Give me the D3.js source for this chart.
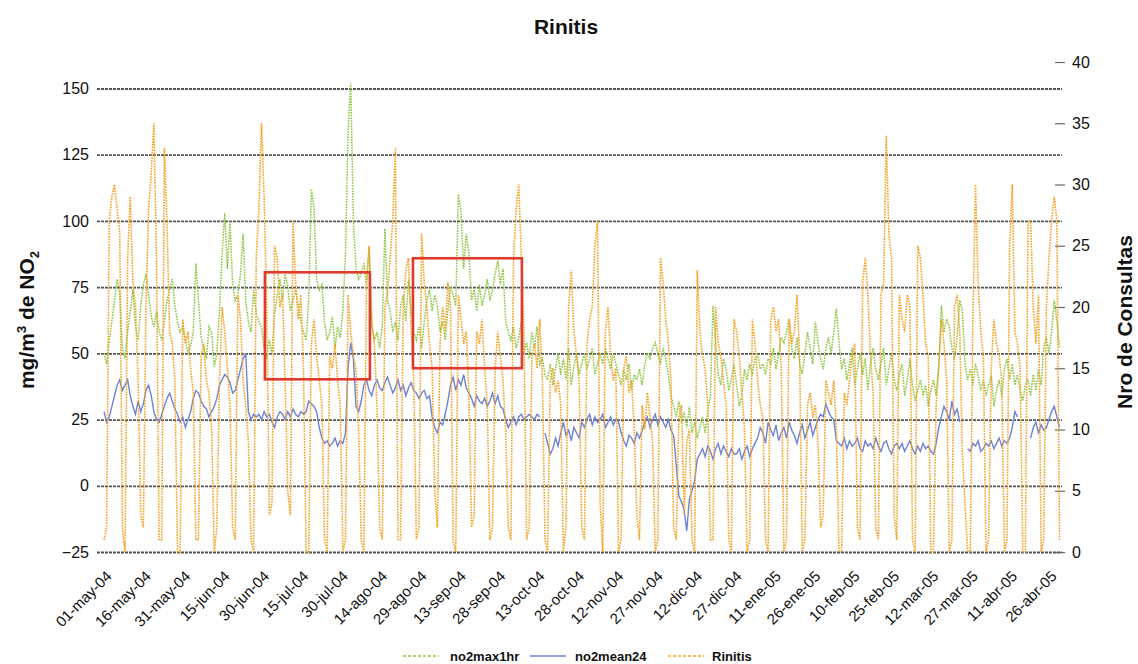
<!DOCTYPE html>
<html>
<head>
<meta charset="utf-8">
<script src="https://cdn.jsdelivr.net/npm/d3@7"></script>
<style>
  body { margin: 0; background: #fff; }
  svg { display: block; font-family: "Liberation Sans", Arial, sans-serif; }
</style>
</head>
<body>
<svg id="chart" width="1138" height="664"></svg>
<script>
// Daily series, 01-may-04 .. 30-abr-05 (365 days)
const tickLabels = ["01-may-04","16-may-04","31-may-04","15-jun-04","30-jun-04","15-jul-04","30-jul-04",
  "14-ago-04","29-ago-04","13-sep-04","28-sep-04","13-oct-04","28-oct-04","12-nov-04","27-nov-04",
  "12-dic-04","27-dic-04","11-ene-05","26-ene-05","10-feb-05","25-feb-05","12-mar-05","27-mar-05",
  "11-abr-05","26-abr-05"];

const leftTicks = [-25, 0, 25, 50, 75, 100, 125, 150];
const rightTicks = [0, 5, 10, 15, 20, 25, 30, 35, 40];

const no2max1hr = [
  50,46,55,62,70,78,72, 52,48,58,66,74,60,55, 68,76,80,72,64,60,66, 58,55,62,70,74,78,68,
  62,58,60,55,50,53,58, 84,70,56,52,48,60,58, 45,50,66,88,103,82,100, 76,70,72,80,95,70,62,
  58,74,65,62,60,52,48, 55,50,65,72,78,70,80, 75,66,70,74,68,62,58, 55,70,112,105,78,74,76,
  62,55,58,64,52,60,56, 66,88,135,152,100,82,78, 80,84,76,90,60,55,58, 52,60,97,70,66,58,62,
  55,68,72,62,78,66,58, 55,60,52,62,70,74,66, 72,68,58,62,55,66,75, 72,68,110,104,82,95,88,
  70,74,66,76,68,72,78, 70,74,80,85,76,82,62, 58,55,60,52,56,62,50, 54,48,58,52,60,46,48,
  42,40,46,38,44,50,42, 48,40,52,38,45,50,42, 46,50,44,48,52,42,46, 50,46,52,48,44,50,46,
  42,38,44,40,46,36,42, 40,44,38,46,50,48,52, 54,50,46,52,48,42,34, 30,26,32,24,28,22,30,
  20,24,18,22,26,20,28, 34,68,55,42,38,48,44, 36,40,46,38,30,34,44, 40,46,42,48,50,44,46,
  42,48,46,52,44,50,56, 54,58,63,52,48,56,46, 42,50,58,52,46,62,54, 48,44,52,56,50,58,67,
  54,44,48,40,46,52,38, 44,50,42,48,36,46,52, 44,40,46,52,38,44,50, 40,36,42,46,34,40,48,
  38,32,36,40,34,38,30, 36,40,34,46,68,58,63, 60,52,48,56,70,66,46, 40,44,38,46,42,36,40,
  34,38,42,30,36,40,34, 44,48,40,46,38,42,36, 32,38,40,34,42,36,44, 38,52,56,50,58,70,62,
  52
];

const no2mean24 = [
  28,24,26,30, 34,38,40,36,38,40,34, 30,27,32,28,31, 36,38,34,28,25,24,27, 30,33,35,32,29,
  27,24,26,22,25,28, 33,36,35,32,30, 29,26,28,30,33, 38,40,42,41,39,35, 36,40,44,48,50,
  28,25,27,26, 27,25,28,26,27,24,22,26,28,27,25,28,26,29,27,26,28,27, 28,32,31,30,
  28,22,18,16,17,15,16,18,15,17,16,20, 45,54,48, 30,28,32, 38,40,36,
  34,38,40,37,36,39,41,38,35,37,40,36,38,34,37,39,36,35,33, 35,36,33,34, 26,22,20,24,23,27,
  32,38,41,36,40,38,42,37,35, 33,30,34,32,31, 33,30,32,35,31,34,30,29, 25,22,24,26,23,
  26,27,25,26,27,26,25,27,26, null, 20,16,12,14,18,15,20,24,19,21,17,22,20,18,
  24,22,25,27,23,26,24,25,27,22,24,26,23,25,24, 20,17,15,19,18,16,20,18,21,
  24,26,22,25,27,23,26,24,22,25,21,19, 8,-4,-6,-9,-17,-5,-2,2,10,
  12,14,11,15,13,10,14,16,12,15,13,11,14,12, 12,14,10,13,15,11,14,16,
  18,22,20,16,24,21,19,23,17,20,22,18,24,21,19,16,20,23,18,21,24,19,22, 25,27,26,31,28,26,25,17,
  16,15,18,14,17,15,16,18,14,13,17,15,16,14,18,15,13,16,17,14,12,15,16,
  14,16,13,15,17,14,12,15,13,16,14,15,13,12,16, 22,26,30,28,25,32,27,29,24, null,null,
  14,13,16,15,17,13,14,16,15,17,14,16,18,15,17,16,18, 22,28,26, null,null,null,null,
  18,22,24,20,23,21,22,25,28,30,26,22
];

const rinitis = [
  1,2, 27,29,30,28,26,2,0, 24,29,22,20,14,3,2, 20,28,31,35,24,1,1, 33,27,18,17,14,0,0,
  19,17,18,15,13,1,1, 16,17,14,13,10,0,2, 14,20,18,15,12,2,1, 21,19,14,12,9,1,0,
  24,28,35,29,20,3,4, 25,24,20,21,14,5,3, 27,22,19,21,15,0,0, 17,19,16,14,12,1,0,
  16,15,17,14,12,0,1, 21,18,16,15,10,1,0, 22,25,19,17,12,2,1, 20,21,24,27,33,1,1,
  20,23,24,18,14,1,2, 26,22,20,17,15,5,2, 17,20,18,22,20,1,0, 21,19,17,18,13,2,3,
  18,17,19,15,12,1,2, 15,18,16,14,10,2,1, 24,28,30,24,18,1,2, 16,17,15,19,14,1,0,
  14,15,13,14,12,0,2, 20,23,18,16,14,2,1, 17,19,20,25,27,4,0, 18,20,16,14,15,0,1,
  15,16,13,14,10,3,1, 12,10,13,11,9,0,1, 24,22,19,17,14,2,1, 11,12,3,9,10,1,0,
  23,18,16,15,12,1,1, 20,17,16,14,12,1,0, 19,18,16,13,10,0,1, 19,17,14,12,11,1,0,
  19,20,18,19,15,0,1, 19,17,18,21,16,0,1, 12,13,11,12,9,2,3, 14,13,12,14,10,0,0,
  13,12,14,16,17,2,1, 22,24,21,16,13,2,1, 21,22,34,26,24,3,1, 21,19,18,21,20,1,0,
  25,24,21,17,16,0,0, 12,15,19,17,14,0,1, 20,21,18,8,4,0,0, 19,30,22,18,16,0,1,
  15,19,17,16,14,0,1, 25,30,18,17,15,0,0, 27,27,20,17,21,0,1, 20,24,27,29,27,1
];

// Highlighted periods: day index range and NO2 band (left axis units)
const boxDayFrom = [61.3, 117.7];
const boxDayTo   = [101.3, 159.2];
const boxLow     = [40.2, 44.4];
const boxHigh    = [80.6, 85.9];

const seriesNames = ["no2max1hr", "no2mean24", "Rinitis"];
const seriesColors = ["#8cc540", "#6f82d4", "#f6a225"];

const svg = d3.select("#chart");
const plotLeft = 97, plotRight = 1062, plotTop = 62, plotBottom = 552;

const x = d3.scaleLinear().domain([0, 364]).range([104, 1059.5]);
const yL = d3.scaleLinear().domain([-25, 160]).range([plotBottom, plotTop]);
const yR = d3.scaleLinear().domain([0, 40]).range([plotBottom, plotTop]);

// Title
svg.append("text")
  .attr("x", 566).attr("y", 34)
  .attr("text-anchor", "middle")
  .attr("font-size", 21).attr("font-weight", "bold").attr("fill", "#111")
  .text("Rinitis");

// Left axis with horizontal grid lines
const gLeft = svg.append("g")
  .attr("transform", `translate(${plotLeft},0)`)
  .call(d3.axisLeft(yL).tickValues(leftTicks).tickSize(-(plotRight - plotLeft)).tickPadding(8));
gLeft.select(".domain").remove();
gLeft.selectAll(".tick line")
  .attr("stroke", "#555").attr("stroke-width", 1.8).attr("stroke-dasharray", "3,1");
gLeft.selectAll(".tick text")
  .attr("font-size", 16).attr("fill", "#111").attr("font-family", "Liberation Sans, Arial, sans-serif");

// Right axis
const gRight = svg.append("g")
  .attr("transform", `translate(1055,0)`)
  .call(d3.axisRight(yR).tickValues(rightTicks).tickSize(10).tickPadding(7));
gRight.select(".domain").remove();
gRight.selectAll(".tick line").attr("stroke", "#666").attr("stroke-width", 1.2);
gRight.selectAll(".tick text")
  .attr("font-size", 16).attr("fill", "#111").attr("font-family", "Liberation Sans, Arial, sans-serif");

// Bottom category labels every 15 days
const tickDays = tickLabels.map((_, i) => i * 15);
const gBottom = svg.append("g")
  .attr("transform", `translate(0,${plotBottom})`)
  .call(d3.axisBottom(x).tickValues(tickDays).tickSize(0).tickFormat((d, i) => tickLabels[i]));
gBottom.select(".domain").remove();
gBottom.selectAll(".tick text")
  .attr("font-size", 15).attr("fill", "#111").attr("font-family", "Liberation Sans, Arial, sans-serif")
  .attr("text-anchor", "end")
  .attr("dy", 0)
  .attr("transform", "translate(6,23) rotate(-45)");

// Series
const lineL = d3.line().defined(v => v != null).x((v, i) => x(i)).y(v => yL(v));
const lineR = d3.line().defined(v => v != null).x((v, i) => x(i)).y(v => yR(v));

svg.append("path").datum(no2max1hr)
  .attr("d", lineL).attr("fill", "none")
  .attr("stroke", seriesColors[0]).attr("stroke-width", 1.5).attr("stroke-dasharray", "1.6,1.1");

svg.append("path").datum(no2mean24)
  .attr("d", lineL).attr("fill", "none")
  .attr("stroke", seriesColors[1]).attr("stroke-width", 1.4);

svg.append("path").datum(rinitis)
  .attr("d", lineR).attr("fill", "none")
  .attr("stroke", seriesColors[2]).attr("stroke-width", 1.6).attr("stroke-dasharray", "1.6,1.1");

// Highlight boxes
svg.append("g").selectAll("rect")
  .data(boxDayFrom.map((d, i) => i))
  .join("rect")
  .attr("x", i => x(boxDayFrom[i]))
  .attr("y", i => yL(boxHigh[i]))
  .attr("width", i => x(boxDayTo[i]) - x(boxDayFrom[i]))
  .attr("height", i => yL(boxLow[i]) - yL(boxHigh[i]))
  .attr("fill", "none").attr("stroke", "#e03a2e").attr("stroke-width", 2.6);

// Axis titles
const leftTitle = svg.append("text")
  .attr("transform", "translate(34,320) rotate(-90)")
  .attr("text-anchor", "middle")
  .attr("font-size", 21).attr("font-weight", "bold").attr("fill", "#111");
leftTitle.append("tspan").text("mg/m");
leftTitle.append("tspan").attr("font-size", 13).attr("dy", -8).text("3");
leftTitle.append("tspan").attr("dy", 8).text(" de NO");
leftTitle.append("tspan").attr("font-size", 13).attr("dy", 5).text("2");

svg.append("text")
  .attr("transform", "translate(1132,322) rotate(-90)")
  .attr("text-anchor", "middle")
  .attr("font-size", 21).attr("font-weight", "bold").attr("fill", "#111")
  .text("Nro de Consultas");

// Legend
const legendX = [403, 530, 668];
const legendTextX = [450, 575, 712];
const legend = svg.append("g");
seriesNames.forEach((name, i) => {
  legend.append("line")
    .attr("x1", legendX[i]).attr("x2", legendX[i] + 36)
    .attr("y1", 656).attr("y2", 656)
    .attr("stroke", seriesColors[i]).attr("stroke-width", 1.5)
    .attr("stroke-dasharray", i === 1 ? null : "3,2");
  legend.append("text")
    .attr("x", legendTextX[i]).attr("y", 661)
    .attr("font-size", 13).attr("font-weight", "bold").attr("fill", "#111")
    .text(name);
});
</script>
</body>
</html>
